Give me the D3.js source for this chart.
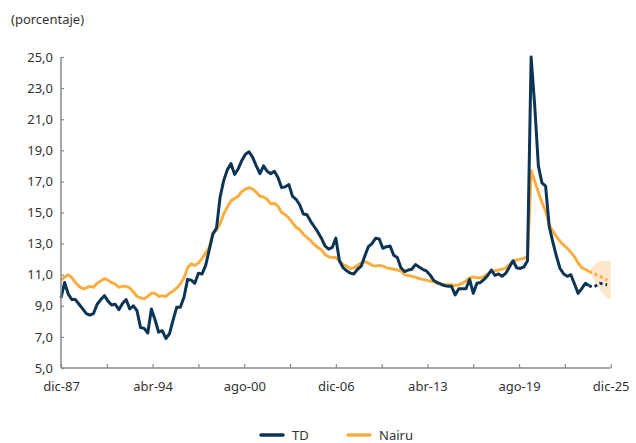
<!DOCTYPE html>
<html>
<head>
<meta charset="utf-8">
<script src="https://cdn.jsdelivr.net/npm/d3@7"></script>
<style>
  html, body { margin: 0; padding: 0; background: #fff; }
  svg { display: block; font-family: "Noto Sans", "Open Sans", sans-serif; }
</style>
</head>
<body>
<svg id="chart" width="636" height="443"></svg>
<script>
// ---- DATA (quarterly, starting Dec 1987) ----
const startDate = new Date(1987, 11, 1);

const td = [
  9.5, 10.5, 9.75, 9.4, 9.4, 9.1, 8.8, 8.5, 8.4, 8.5,
  9.1, 9.4, 9.65, 9.3, 9.05, 9.1, 8.75, 9.15, 9.4, 8.8,
  9.0, 8.7, 7.6, 7.55, 7.25, 8.8, 8.1, 7.3, 7.4, 6.9,
  7.2, 8.1, 8.9, 8.9, 9.55, 10.7, 10.65, 10.45, 11.1, 11.05,
  11.6, 12.6, 13.6, 14.0, 16.0, 17.05, 17.75, 18.15, 17.45, 17.8,
  18.35, 18.75, 18.9, 18.55, 18.0, 17.5, 18.0, 17.65, 17.5, 17.65,
  17.25, 16.6, 16.65, 16.8, 16.05, 15.85, 15.5, 14.9, 14.85, 14.45,
  14.1, 13.75, 13.35, 12.85, 12.65, 12.75, 13.35, 11.9, 11.45, 11.25,
  11.1, 11.05, 11.35, 11.55, 12.2, 12.8, 13.0, 13.35, 13.3, 12.7,
  12.8, 12.85, 12.25, 12.1, 11.45, 11.2, 11.3, 11.35, 11.65, 11.5,
  11.35, 11.25, 11.0, 10.65, 10.5, 10.4, 10.3, 10.25, 10.25, 9.7,
  10.1, 10.1, 10.1, 10.7, 9.8, 10.45, 10.5, 10.7, 10.95, 11.3,
  10.95, 11.05, 10.9, 11.1, 11.5, 11.9, 11.45, 11.4, 11.5, 11.9,
  25.0, 21.8, 18.0, 16.9, 16.7, 14.1, 13.1, 12.2, 11.4, 11.05,
  10.9, 11.0, 10.4, 9.8, 10.1, 10.45, 10.3
];

const nairu = [
  10.65, 10.85, 11.0, 10.8, 10.5, 10.25, 10.1, 10.15, 10.25, 10.2,
  10.45, 10.6, 10.75, 10.65, 10.5, 10.4, 10.2, 10.25, 10.25, 10.15,
  9.9, 9.6, 9.5, 9.45, 9.6, 9.8, 9.8, 9.6, 9.65, 9.6,
  9.8, 9.95, 10.15, 10.4, 10.8, 11.45, 11.7, 11.6, 11.75, 12.05,
  12.4, 12.75, 13.7, 13.85, 14.3, 14.9, 15.35, 15.75, 15.9, 16.05,
  16.35, 16.5, 16.6, 16.5, 16.3, 16.05, 16.0, 15.85, 15.55, 15.6,
  15.4, 15.0, 14.85, 14.65, 14.35, 14.05, 13.9, 13.6, 13.4, 13.2,
  12.95, 12.75, 12.6, 12.3, 12.15, 12.1, 12.1, 11.9, 11.65, 11.55,
  11.4, 11.45, 11.6, 11.75, 11.85, 11.75, 11.6, 11.55, 11.6, 11.55,
  11.45, 11.4, 11.35, 11.3, 11.25, 11.0, 10.95, 10.9, 10.85, 10.75,
  10.7, 10.65, 10.6, 10.55, 10.45, 10.4, 10.35, 10.35, 10.35, 10.3,
  10.35, 10.45, 10.6, 10.8, 10.85, 10.8, 10.8, 10.9, 11.05, 11.2,
  11.25, 11.3, 11.35, 11.45, 11.65, 11.85, 11.95, 12.0, 12.05, 12.15,
  17.7, 17.0, 16.3, 15.65, 15.1, 14.2, 13.8, 13.45, 13.15, 12.9,
  12.7, 12.45, 12.15, 11.75, 11.45, 11.35, 11.2
];

// projections (start at last observed quarter, index 146)
const projStart = 146;
const tdProj    = [10.3, 10.2, 10.3, 10.45, 10.4, 10.35];
const nairuProj = [11.2, 11.1, 11.0, 10.9, 10.8, 10.65];
const bandUpper = [11.2, 11.5, 11.75, 11.85, 11.9, 11.9, 11.9];
const bandLower = [11.2, 10.85, 10.4, 10.05, 9.75, 9.55, 9.45];

const yTicks = [5, 7, 9, 11, 13, 15, 17, 19, 21, 23, 25];
const xTickLabels = ["dic-87", "abr-94", "ago-00", "dic-06", "abr-13", "ago-19", "dic-25"];
const seriesNames = ["TD", "Nairu"];

// ---- STYLE ----
const colTD = "#0c3455";
const colNairu = "#f9ae42";
const colBand = "#fde6cb";
const axisCol = "#8a8a8a";
const textCol = "#333333";

const svg = d3.select("#chart");
const dateAt = i => d3.timeMonth.offset(startDate, 3 * i);

const x = d3.scaleTime()
  .domain([startDate, new Date(2025, 11, 1)])
  .range([61, 610.7]);
const y = d3.scaleLinear().domain([5, 25]).range([368, 57]);

// title
svg.append("text").attr("x", 11).attr("y", 24)
  .attr("font-size", 13).attr("fill", textCol).text("(porcentaje)");

// band
const bandData = bandUpper.map((u, i) => ({ d: dateAt(projStart + i), u, l: bandLower[i] }));
svg.append("path").datum(bandData)
  .attr("fill", colBand)
  .attr("d", d3.area().curve(d3.curveMonotoneX)
    .x(p => x(p.d)).y0(p => y(p.l)).y1(p => y(p.u)));

// lines
const line = d3.line().x(p => x(p.d)).y(p => y(p.v));
const toPts = (arr, off) => arr.map((v, i) => ({ d: dateAt(off + i), v }));

svg.append("path").datum(toPts(nairu, 0))
  .attr("fill", "none").attr("stroke", colNairu).attr("stroke-width", 3)
  .attr("stroke-linejoin", "round").attr("d", line);
svg.append("path").datum(toPts(nairuProj, projStart))
  .attr("fill", "none").attr("stroke", colNairu).attr("stroke-width", 3)
  .attr("stroke-dasharray", "3,3").attr("d", line);

svg.append("path").datum(toPts(td, 0))
  .attr("fill", "none").attr("stroke", colTD).attr("stroke-width", 3)
  .attr("stroke-linejoin", "round").attr("d", line);
svg.append("path").datum(toPts(tdProj, projStart))
  .attr("fill", "none").attr("stroke", colTD).attr("stroke-width", 3)
  .attr("stroke-dasharray", "3,3").attr("d", line);

// y axis
const yAxis = svg.append("g").attr("transform", "translate(61,0)")
  .call(d3.axisLeft(y).tickValues(yTicks).tickSize(-3).tickPadding(8)
    .tickFormat(d => d3.format(".1f")(d).replace(".", ",")));
yAxis.select(".domain").attr("stroke", axisCol).attr("stroke-width", 1.5).attr("d", "M0,57V368");
yAxis.selectAll(".tick line").attr("stroke", axisCol).attr("stroke-width", 1.2);
yAxis.selectAll(".tick text").attr("fill", textCol).attr("font-size", 13)
  .attr("font-family", "'Noto Sans', sans-serif");

// x axis
const xTickDates = d3.range(13).map(i => d3.timeMonth.offset(startDate, 38 * i));
const xAxis = svg.append("g").attr("transform", "translate(0,368)")
  .call(d3.axisBottom(x).tickValues(xTickDates).tickSize(-4).tickPadding(14)
    .tickFormat((d, i) => i % 2 === 0 ? xTickLabels[i / 2] : ""));
xAxis.select(".domain").attr("stroke", axisCol).attr("stroke-width", 1.5).attr("d", "M61,0H610.7");
xAxis.selectAll(".tick line").attr("stroke", axisCol).attr("stroke-width", 1.2);
xAxis.selectAll(".tick text").attr("fill", textCol).attr("font-size", 13)
  .attr("font-family", "'Noto Sans', sans-serif");

// legend
const legend = svg.append("g");
const legItems = [
  { name: seriesNames[0], col: colTD, x: 261 },
  { name: seriesNames[1], col: colNairu, x: 348 }
];
legItems.forEach(it => {
  legend.append("line").attr("x1", it.x).attr("x2", it.x + 22)
    .attr("y1", 435).attr("y2", 435)
    .attr("stroke", it.col).attr("stroke-width", 3.5).attr("stroke-linecap", "round");
  legend.append("text").attr("x", it.x + 31).attr("y", 440)
    .attr("font-size", 13).attr("fill", textCol).text(it.name);
});
</script>
</body>
</html>
